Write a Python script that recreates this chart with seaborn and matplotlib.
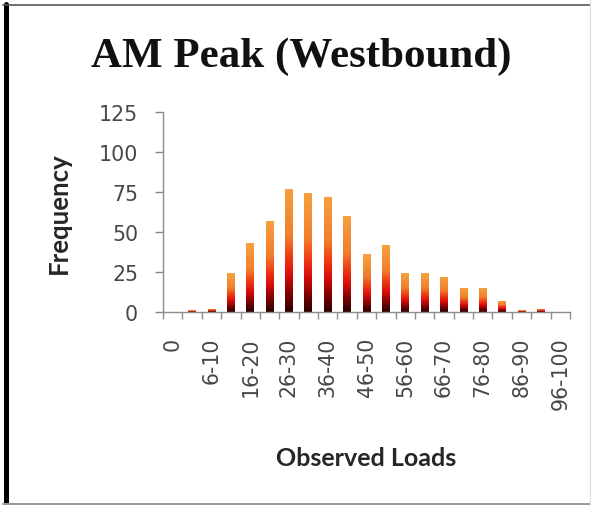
import numpy as np
import pandas as pd
import seaborn as sns
import matplotlib.pyplot as plt
from matplotlib.colors import LinearSegmentedColormap
from matplotlib.lines import Line2D

# Load bins and observed frequencies
categories = ["0", "1-5", "6-10", "11-15", "16-20", "21-25", "26-30", "31-35",
              "36-40", "41-45", "46-50", "51-55", "56-60", "61-65", "66-70",
              "71-75", "76-80", "81-85", "86-90", "91-95", "96-100"]
frequency = [0, 1, 2, 24, 43, 57, 77, 74, 72, 60, 36, 42, 24, 24, 22,
             15, 15, 7, 1, 2, 0]

df = pd.DataFrame({"load": categories, "freq": frequency})

sns.set_style("white")
plt.rcParams["font.family"] = ["DejaVu Sans"]

# dark maroon -> red -> orange, per bar
GRAD = LinearSegmentedColormap.from_list(
    "fire",
    [(0.0, "#2a0000"), (0.12, "#6e0000"), (0.30, "#dc0c0c"),
     (0.45, "#f03c14"), (0.62, "#f27f2c"), (1.0, "#f6a03f")],
)

fig = plt.figure(figsize=(5.91, 5.06), dpi=100)
ax = fig.add_axes([163 / 591, 1 - 312.7 / 506, 407 / 591, 200 / 506])

sns.barplot(data=df, x="load", y="freq", order=categories, color="#f27f2c",
            width=0.4, ax=ax)

# replace flat fill with a vertical gradient clipped to each bar
grad = np.linspace(0, 1, 256).reshape(-1, 1)
for p in ax.patches:
    x, y = p.get_x(), p.get_y()
    w, h = p.get_width(), p.get_height()
    if h <= 0:
        continue
    im = ax.imshow(grad, extent=[x, x + w, y, y + h], origin="lower",
                   aspect="auto", cmap=GRAD, zorder=p.get_zorder())
    im.set_clip_path(p)
    p.set_facecolor("none")
    p.set_edgecolor("none")

ax.set_xlim(-0.5, len(categories) - 0.5)
ax.set_ylim(0, 125)
ax.set_yticks([0, 25, 50, 75, 100, 125])

# labels on every other bin, tick marks at bin edges
ax.set_xticks(range(0, len(categories), 2))
ax.set_xticklabels(categories[::2], rotation=90)
ax.set_xticks(np.arange(-0.5, len(categories), 1), minor=True)

ax.tick_params(axis="x", which="major", length=0, pad=18,
               labelsize=14.8, labelcolor="#474747", bottom=True)
ax.tick_params(axis="x", which="minor", length=5, width=1, color="#8c8c8c",
               direction="out", bottom=True)
ax.tick_params(axis="y", length=6, width=1, color="#8c8c8c", direction="out",
               pad=12, labelsize=14.8, labelcolor="#474747", left=True)

sns.despine(ax=ax)
for s in ["left", "bottom"]:
    ax.spines[s].set_color("#8c8c8c")
    ax.spines[s].set_linewidth(1)

ax.set_xlabel("Observed Loads", fontsize=18, fontweight="bold",
              family="Lato", color="#262626", va="center")
ax.set_ylabel("Frequency", fontsize=18.5, fontweight="bold",
              family="Lato", color="#262626", va="center")
ax.xaxis.set_label_coords(0.5, (312.7 - 459) / 200)
ax.yaxis.set_label_coords((59 - 163) / 407, 0.5)

fig.text(301 / 591, 1 - 67 / 506, "AM Peak (Westbound)",
         family="Liberation Serif", fontweight="bold", fontsize=31,
         ha="center", va="baseline", color="#111111")

# picture frame
fig.add_artist(Line2D([5.5 / 591, 5.5 / 591], [0, 1 - 5 / 506],
                      transform=fig.transFigure, color="black", lw=3.6))
fig.add_artist(Line2D([3 / 591, 1], [1 - 6 / 506, 1 - 6 / 506],
                      transform=fig.transFigure, color="#555555", lw=1.2))
fig.add_artist(Line2D([3 / 591, 1], [1.2 / 506, 1.2 / 506],
                      transform=fig.transFigure, color="#999999", lw=1.4))
fig.add_artist(Line2D([589.5 / 591, 589.5 / 591], [0, 1],
                      transform=fig.transFigure, color="#dddddd", lw=1))

fig.savefig("out.png", dpi=100)
plt.close(fig)
